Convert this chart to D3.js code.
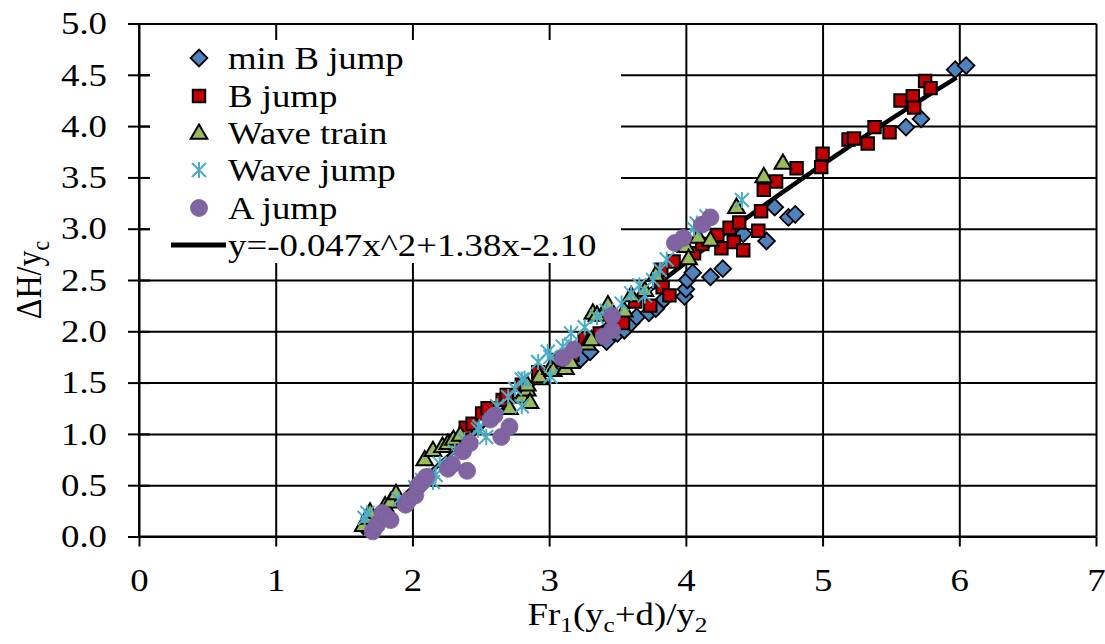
<!DOCTYPE html>
<meta charset="utf-8">
<style>
body { margin: 0; background: #fff; }
text { font-family: "Liberation Serif", "Times New Roman", serif; fill: #000; }
.grid line { stroke: #000; stroke-width: 2; }
.grid path { display: none; }
.axis path { stroke: #000; stroke-width: 2; }
.axis line { stroke: #000; stroke-width: 2; }
</style>
<svg width="1105" height="644"></svg>
<script src="https://d3js.org/d3.v7.min.js"></script>
<script>
// series: [Fr1(yc+d)/y2, dH/yc]
var minBJump = [[3.05,1.68],[3.15,1.72],[3.23,1.73],[3.30,1.80],[3.42,1.90],[3.50,1.98],[3.55,2.01],[3.60,2.08],
  [3.64,2.14],[3.73,2.18],[3.78,2.22],[3.84,2.31],[3.99,2.34],[4.00,2.41],[4.01,2.50],[4.05,2.57],[4.18,2.53],
  [4.27,2.61],[4.42,2.95],[4.59,2.88],[4.65,3.21],[4.75,3.11],[4.80,3.14],[5.61,3.99],[5.72,4.07],[5.97,4.55],[6.05,4.59]];
var bJump = [[2.39,1.06],[2.44,1.10],[2.51,1.20],[2.55,1.25],[2.66,1.33],[2.69,1.38],[2.80,1.48],[2.92,1.60],
  [3.06,1.72],[3.17,1.77],[3.26,1.93],[3.37,1.98],[3.54,2.08],[3.63,2.29],[3.74,2.25],[3.81,2.48],[3.83,2.43],
  [3.88,2.35],[3.82,2.60],[3.91,2.68],[4.06,2.76],[4.12,2.85],[4.23,2.94],[4.26,2.81],[4.32,3.01],[4.35,2.87],
  [4.39,3.06],[4.42,2.79],[4.53,2.98],[4.55,3.17],[4.57,3.38],[4.66,3.46],[4.81,3.59],[4.99,3.60],[5.00,3.73],
  [5.19,3.87],[5.23,3.88],[5.33,3.83],[5.38,3.99],[5.49,3.94],[5.57,4.25],[5.66,4.29],[5.67,4.18],[5.75,4.44],[5.79,4.37]];
var waveTrain = [[1.64,0.11],[1.67,0.18],[1.69,0.24],[1.80,0.30],[1.84,0.34],[1.88,0.42],[2.09,0.75],[2.15,0.84],
  [2.22,0.88],[2.26,0.91],[2.30,0.95],[2.35,0.99],[2.71,1.25],[2.80,1.36],[2.84,1.43],[2.84,1.48],[2.86,1.31],
  [2.93,1.54],[2.93,1.56],[3.01,1.64],[3.03,1.62],[3.12,1.64],[3.16,1.70],[3.28,1.88],[3.31,1.92],[3.32,2.18],
  [3.35,2.16],[3.43,2.26],[3.55,2.20],[3.60,2.35],[3.70,2.40],[3.78,2.55],[4.00,2.83],[4.02,2.71],[4.09,2.92],
  [4.18,2.89],[4.37,3.21],[4.57,3.51],[4.71,3.64]];
var waveJump = [[1.65,0.18],[1.67,0.23],[1.90,0.36],[2.02,0.48],[2.07,0.55],[2.15,0.53],[2.17,0.60],[2.20,0.71],
  [2.31,0.83],[2.38,0.94],[2.48,1.04],[2.49,1.07],[2.54,0.97],[2.62,1.27],[2.70,1.36],[2.75,1.44],[2.80,1.27],
  [2.80,1.53],[2.82,1.54],[2.92,1.70],[2.99,1.80],[3.01,1.56],[3.01,1.75],[3.10,1.85],[3.16,1.87],[3.16,1.98],
  [3.26,2.04],[3.35,2.14],[3.42,2.20],[3.53,2.27],[3.60,2.37],[3.66,2.45],[3.70,2.35],[3.76,2.50],[3.81,2.60],
  [3.86,2.70],[4.06,3.00],[4.08,3.05],[4.15,3.12],[4.41,3.28]];
var aJump = [[1.71,0.05],[1.74,0.11],[1.78,0.23],[1.81,0.19],[1.84,0.16],[1.95,0.31],[1.97,0.35],[2.02,0.40],
  [2.04,0.49],[2.06,0.52],[2.10,0.58],[2.26,0.66],[2.29,0.70],[2.37,0.83],[2.40,0.64],[2.42,0.91],[2.57,1.14],
  [2.60,1.18],[2.65,0.97],[2.71,1.07],[3.10,1.74],[3.18,1.82],[3.40,1.95],[3.46,2.01],[3.46,2.15],[3.92,2.86],
  [3.98,2.91],[4.12,3.04],[4.18,3.11]];

var seriesNames = ["min B jump", "B jump", "Wave train", "Wave jump", "A jump"];
var trendLabel = "y=-0.047x^2+1.38x-2.10";
var trendCoef = [-0.047, 1.38, -2.10];
var trendRange = [1.63, 6.02];
var xTicks = [0, 1, 2, 3, 4, 5, 6, 7];
var yTicks = [0, 0.5, 1, 1.5, 2, 2.5, 3, 3.5, 4, 4.5, 5];

var sx = 1.15; // the original text is a bit wide
var svg = d3.select("svg");
var x = d3.scaleLinear().domain([0, 7]).range([139, 1096]);
var y = d3.scaleLinear().domain([0, 5]).range([536.5, 23.5]);
var plotH = y(0) - y(5), plotW = x(7) - x(0);

// grid
svg.append("g").attr("class", "grid").attr("transform", "translate(0," + y(0) + ")")
  .call(d3.axisBottom(x).tickValues(xTicks).tickSize(-plotH).tickFormat(""));
svg.append("g").attr("class", "grid").attr("transform", "translate(" + x(0) + ",0)")
  .call(d3.axisLeft(y).tickValues(yTicks).tickSize(-plotW).tickFormat(""));

// legend box hides the grid behind it
svg.append("rect").attr("x", 150).attr("y", 40).attr("width", 471).attr("height", 223).attr("fill", "#fff");

// axes with cross ticks
var yAx = svg.append("g").attr("class", "axis").attr("transform", "translate(" + x(0) + ",0)")
  .call(d3.axisLeft(y).tickValues(yTicks).tickSize(11).tickPadding(21).tickFormat(d3.format(".1f")));
yAx.selectAll(".tick line").attr("x1", 11);
yAx.selectAll(".tick text").attr("font-size", 32).attr("x", -32 / sx).attr("transform", "scale(" + sx + ",1)");
yAx.select(".domain").attr("d", "M0," + y(5) + "V" + y(0));

var xAx = svg.append("g").attr("class", "axis").attr("transform", "translate(0," + y(0) + ")")
  .call(d3.axisBottom(x).tickValues(xTicks).tickSize(10).tickPadding(22).tickFormat(d3.format("d")));
xAx.selectAll(".tick text").attr("font-size", 32).attr("transform", "scale(" + sx + ",1)");
xAx.select(".domain").attr("d", "M" + x(0) + ",0H" + x(7));

// trendline, under the markers
var tx = d3.range(trendRange[0], trendRange[1] + 0.001, 0.05);
var line = d3.line().x(function(v) { return x(v); })
  .y(function(v) { return y(trendCoef[0] * v * v + trendCoef[1] * v + trendCoef[2]); });
svg.append("path").datum(tx).attr("d", line).attr("fill", "none")
  .attr("stroke", "#000").attr("stroke-width", 4.5);

// markers
var diamond = d3.symbol().type(d3.symbolSquare).size(140)();
var square = d3.symbol().type(d3.symbolSquare).size(155)();
var triangle = d3.symbol().type(d3.symbolTriangle).size(120)();
var star = "M0,-8V8M-7,-7L7,7M-7,7L7,-7";

function drawMark(g, kind, px, py) {
  if (kind === 0) g.append("path").attr("d", diamond)
      .attr("transform", "translate(" + px + "," + py + ") rotate(45)")
      .attr("fill", "#4F81BD").attr("stroke", "#000").attr("stroke-width", 1.8);
  if (kind === 1) g.append("path").attr("d", square)
      .attr("transform", "translate(" + px + "," + py + ")")
      .attr("fill", "#C00000").attr("stroke", "#000").attr("stroke-width", 2);
  if (kind === 2) g.append("path").attr("d", triangle)
      .attr("transform", "translate(" + px + "," + (py + 1) + ")")
      .attr("fill", "#9BBB59").attr("stroke", "#000").attr("stroke-width", 2);
  if (kind === 3) g.append("path").attr("d", star)
      .attr("transform", "translate(" + px + "," + py + ")")
      .attr("fill", "none").attr("stroke", "#4BACC6").attr("stroke-width", 2);
  if (kind === 4) g.append("circle").attr("cx", px).attr("cy", py).attr("r", 8.5)
      .attr("fill", "#8064A2").attr("stroke", "#7A5E9C").attr("stroke-width", 0.8);
}

var allSeries = [minBJump, bJump, waveTrain, waveJump, aJump];
var marks = svg.append("g");
allSeries.forEach(function(s, k) {
  s.forEach(function(d) { drawMark(marks, k, x(d[0]), y(d[1])); });
});

// legend
var rowY = [58, 96, 133, 170, 208, 245];
var lg = svg.append("g");
seriesNames.forEach(function(n, i) {
  drawMark(lg, i, 199, rowY[i]);
  lg.append("text").attr("transform", "translate(228," + (rowY[i] + 11) + ") scale(" + sx + ",1)")
    .attr("font-size", 32).text(n);
});
lg.append("line").attr("x1", 171).attr("x2", 226).attr("y1", rowY[5]).attr("y2", rowY[5])
  .attr("stroke", "#000").attr("stroke-width", 5);
lg.append("text").attr("transform", "translate(228," + (rowY[5] + 11) + ") scale(" + sx + ",1)")
  .attr("font-size", 32).text(trendLabel);

// axis titles
var xt = svg.append("text").attr("text-anchor", "middle").attr("font-size", 32)
  .attr("transform", "translate(" + (x(3.5)) + ",625) scale(" + sx + ",1)");
xt.append("tspan").text("Fr");
xt.append("tspan").attr("font-size", 22).attr("dy", 7).text("1");
xt.append("tspan").attr("dy", -7).text("(y");
xt.append("tspan").attr("font-size", 22).attr("dy", 7).text("c");
xt.append("tspan").attr("dy", -7).text("+d)/y");
xt.append("tspan").attr("font-size", 22).attr("dy", 7).text("2");

var yt = svg.append("text").attr("text-anchor", "middle").attr("font-size", 32)
  .attr("transform", "translate(41," + ((y(0) + y(5)) / 2) + ") rotate(-90) scale(1," + sx + ")");
yt.append("tspan").text("\u0394H/y");
yt.append("tspan").attr("font-size", 22).attr("dy", 7).text("c");
</script>
